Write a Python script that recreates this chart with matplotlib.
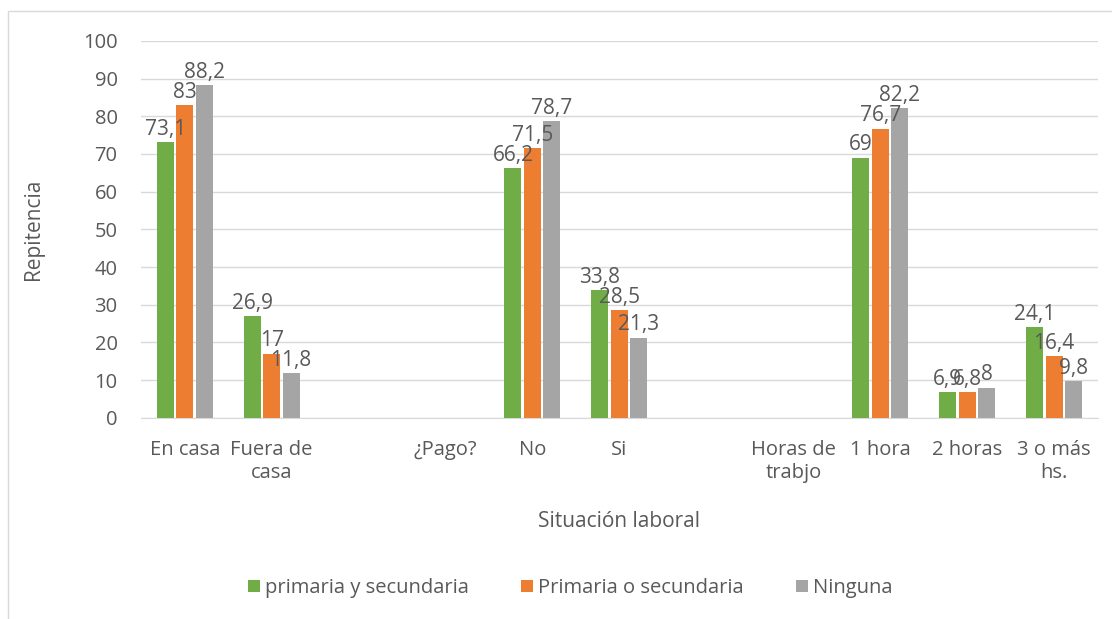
import matplotlib
matplotlib.use("Agg")
import matplotlib.pyplot as plt
import numpy as np
from matplotlib.patches import Rectangle

plt.rcParams['font.family'] = ['Open Sans', 'DejaVu Sans']

categories = ["En casa", "Fuera de\ncasa", "", "¿Pago?", "No", "Si", "",
              "Horas de\ntrabjo", "1 hora", "2 horas", "3 o más\nhs."]
series_names = ["primaria y secundaria", "Primaria o secundaria", "Ninguna"]
ambas = [73.1, 26.9, None, None, 66.2, 33.8, None, None, 69, 6.9, 24.1]
una = [83, 17, None, None, 71.5, 28.5, None, None, 76.7, 6.8, 16.4]
ninguna = [88.2, 11.8, None, None, 78.7, 21.3, None, None, 82.2, 8, 9.8]
colors = ["#70ad47", "#ed7d31", "#a5a5a5"]
text_col = "#595959"

fig = plt.figure(figsize=(11.12, 6.19), dpi=100)
ax = fig.add_axes([0.127, 0.325, 0.860, 0.609])

# chart border
fig.patches.append(Rectangle((8 / 1112, -0.1), 1.2, 1 - 11 / 619 + 0.1,
                             transform=fig.transFigure, fill=False,
                             edgecolor="#d9d9d9", linewidth=1))

x = np.arange(len(categories))
w = 0.195
step = 0.224
for i, (vals, c, name) in enumerate(zip([ambas, una, ninguna], colors, series_names)):
    xs = [xi + (i - 1) * step for xi, v in zip(x, vals) if v is not None]
    vs = [v for v in vals if v is not None]
    ax.bar(xs, vs, width=w, color=c, label=name, zorder=3)
    for xi, v in zip(xs, vs):
        lbl = f"{v:g}".replace(".", ",")
        ax.text(xi, v + 0.6, lbl, ha="center", va="bottom", fontsize=15, color=text_col, zorder=4)

ax.set_xlim(-0.5, len(categories) - 0.5)
ax.set_ylim(0, 100)
ax.set_yticks(range(0, 101, 10))
ax.set_xticks(x)
ax.set_xticklabels(categories)
ax.tick_params(axis="both", length=0, labelsize=14.5, labelcolor=text_col)
ax.tick_params(axis="x", pad=16)
ax.tick_params(axis="y", pad=17)
ax.yaxis.grid(True, color="#d9d9d9", linewidth=1, zorder=0)
for s in ["top", "right", "left"]:
    ax.spines[s].set_visible(False)
ax.spines["bottom"].set_color("#d9d9d9")

ax.set_ylabel("Repitencia", fontsize=15, color=text_col, labelpad=28)
ax.set_xlabel("Situación laboral", fontsize=15, color=text_col, labelpad=20)

fig.legend(loc="center", bbox_to_anchor=(0.513, 0.05), ncol=3, frameon=False,
           fontsize=14.5, labelcolor=text_col, handlelength=0.6, handleheight=0.6,
           handletextpad=0.25, columnspacing=2.6)

fig.savefig("out.png", dpi=100)
